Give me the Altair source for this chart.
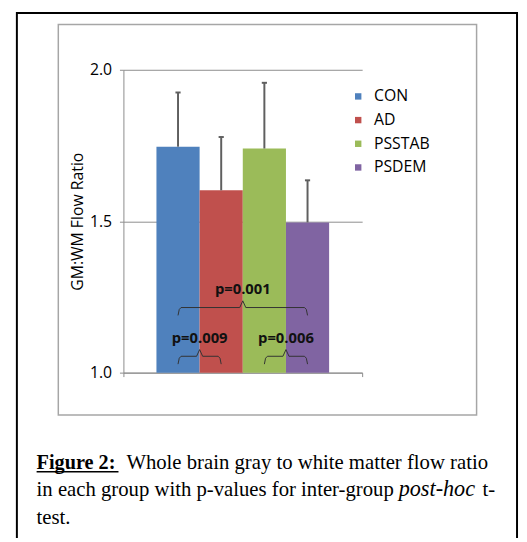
import altair as alt
import pandas as pd

# ---- data ----
groups = ["CON", "AD", "PSSTAB", "PSDEM"]
means = [1.746, 1.602, 1.740, 1.496]
err_tops = [1.925, 1.778, 1.957, 1.635]
colors = ["#4F81BD", "#C0504D", "#9BBB59", "#8064A2"]
y_ticks = [1.0, 1.5, 2.0]

pair_from = ["CON", "PSSTAB", "CON"]
pair_to = ["AD", "PSDEM", "PSDEM"]
pair_level = [1.054, 1.054, 1.215]
pair_label = ["p=0.009", "p=0.006", "p=0.001"]

y_title = "GM:WM Flow Ratio"
cap_bold = "Figure 2:"
cap_line1 = "Whole brain gray to white matter flow ratio"
cap_line2 = "in each group with p-values for inter-group"
cap_italic = "post-hoc"
cap_line2_end = "t-"
cap_line3 = "test."

# ---- tables ----
X_DOMAIN = [-0.765, 4.765]
idx = {g: i for i, g in enumerate(groups)}
bars = pd.DataFrame({
    "group": groups,
    "x0": [i for i in range(len(groups))],
    "x1": [i + 1 for i in range(len(groups))],
    "xc": [i + 0.5 for i in range(len(groups))],
    "mean": means,
    "top": err_tops,
    "base": [y_ticks[0]] * len(groups),
})
CAP = 0.06
bars["cl"] = bars["xc"] - CAP
bars["cr"] = bars["xc"] + CAP

DROP, TIP, E = 0.026, 0.022, 0.07
rows, labels = [], []
for k, (a, b, lev, lab) in enumerate(zip(pair_from, pair_to, pair_level, pair_label)):
    x0 = idx[a] + 0.5
    x1 = idx[b] + 0.5
    xc = (x0 + x1) / 2
    pts = [(x0, lev - DROP), (x0 + E * 0.4, lev - DROP * 0.25), (x0 + E, lev),
           (xc - E, lev), (xc, lev + TIP), (xc + E, lev),
           (x1 - E, lev), (x1 - E * 0.4, lev - DROP * 0.25), (x1, lev - DROP)]
    for o, (px, py) in enumerate(pts):
        rows.append({"id": k, "o": o, "x": px, "y": py})
    labels.append({"x": xc, "y": lev + 0.06, "label": lab})
brackets = pd.DataFrame(rows)
blabels = pd.DataFrame(labels)

one = pd.DataFrame({"a": [1]})

GRAY = "#8c8c8c"
xscale = alt.Scale(domain=X_DOMAIN, nice=False, zero=False)
yscale = alt.Scale(domain=[y_ticks[0], y_ticks[-1]], nice=False, zero=False)

x_axis = alt.Axis(values=X_DOMAIN, labels=False, title=None, grid=False,
                  tickSize=4, domainColor=GRAY, tickColor=GRAY)
y_axis = alt.Axis(values=y_ticks, format=".1f", grid=True, gridColor=GRAY,
                  domainColor=GRAY, tickColor=GRAY, tickSize=4, labelPadding=8,
                  labelFont="Open Sans", labelFontSize=16, labelColor="#000",
                  title=y_title, titleFont="Open Sans", titleFontSize=16,
                  titleFontWeight="normal", titleColor="#000",
                  titleX=-41, titleY=153.5, titleAngle=270,
                  titleAlign="center", titleBaseline="alphabetic")

outer = alt.Chart(one).mark_rect(fill=None, stroke="#000", strokeWidth=2).encode(
    x=alt.value(-108), x2=alt.value(399), y=alt.value(-57.5), y2=alt.value(700))
inner = alt.Chart(one).mark_rect(fill=None, stroke="#a6a6a6", strokeWidth=1.5).encode(
    x=alt.value(-66), x2=alt.value(358), y=alt.value(-45.8), y2=alt.value(350))

bar_layer = alt.Chart(bars).mark_rect().encode(
    x=alt.X("x0:Q", scale=xscale, axis=x_axis),
    x2="x1",
    y=alt.Y("mean:Q", scale=yscale, axis=y_axis),
    y2="base",
    color=alt.Color("group:N", scale=alt.Scale(domain=groups, range=colors),
                    legend=alt.Legend(orient="none", legendX=230, legendY=19,
                                      title=None, symbolType="square",
                                      symbolSize=42, symbolStrokeWidth=0,
                                      labelFont="Open Sans", labelFontSize=16,
                                      labelColor="#000", labelOffset=8,
                                      rowPadding=8, padding=0)),
)

err_rule = alt.Chart(bars).mark_rule(color="#5f5f5f", strokeWidth=2).encode(
    x="xc:Q", y="mean:Q", y2="top")
err_cap = alt.Chart(bars).mark_rule(color="#5f5f5f", strokeWidth=2).encode(
    x="cl:Q", x2="cr", y="top:Q")

br_line = alt.Chart(brackets).mark_line(color="#333333", strokeWidth=1).encode(
    x="x:Q", y="y:Q", detail="id:N", order="o:Q")
br_text = alt.Chart(blabels).mark_text(font="Open Sans", fontSize=15,
                                       fontWeight="bold", color="#111",
                                       baseline="middle", align="center").encode(
    x="x:Q", y="y:Q", text="label:N")

SERIF = "Liberation Serif"
FS = 21
def cap(txt, x, y, size=FS, **kw):
    return alt.Chart(one).mark_text(text=txt, font=SERIF, fontSize=size, align="left",
                                    baseline="alphabetic", color="#000", **kw).encode(
        x=alt.value(x), y=alt.value(y))

caption = [
    cap(cap_bold, -88, 404.3, size=20.5, fontWeight="bold"),
    cap(cap_line1, 3, 404.3),
    cap(cap_line2, -88, 432.3),
    cap(cap_italic, 279, 432.3, size=22.5, fontStyle="italic"),
    cap(cap_line2_end, 364, 432.3),
    cap(cap_line3, -88, 460.3),
]
underline = alt.Chart(one).mark_rule(color="#000", strokeWidth=1.5).encode(
    x=alt.value(-88), x2=alt.value(-5), y=alt.value(407.5))

chart = alt.layer(outer, inner, bar_layer, err_rule, err_cap, br_line, br_text,
                  *caption, underline).properties(
    width=242, height=307,
    padding={"left": 117, "top": 59, "right": 159, "bottom": 164},
    autosize=alt.AutoSizeParams(type="none"),
    background="white",
).configure_view(stroke=None)

chart.save("out.html", embed_options={"renderer": "svg", "actions": False})
